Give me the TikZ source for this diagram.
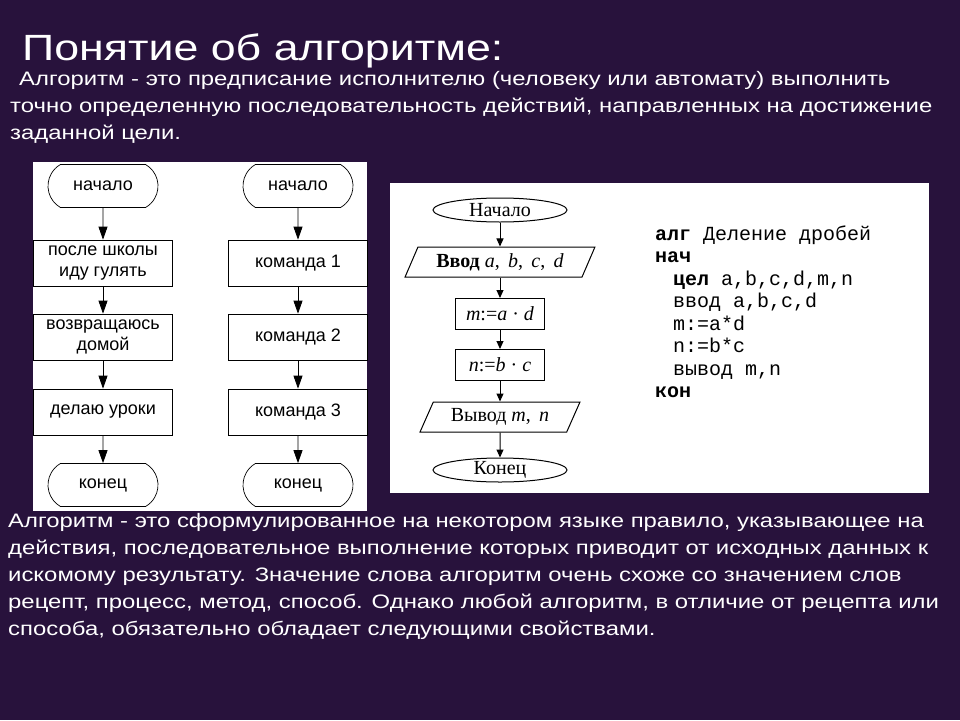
\documentclass[tikz,border=0pt]{standalone}
\usepackage{fontspec}
\setmainfont{Liberation Sans}
\newfontfamily\slidefont[FakeStretch=1.225]{Liberation Sans}
\newfontfamily\printfont{Liberation Serif}
\newfontfamily\progfont{Liberation Mono}
\usepackage{xcolor}
\usetikzlibrary{positioning, arrows.meta, shapes.geometric, shapes.misc}
\definecolor{slidebg}{RGB}{40,18,60}

\begin{document}
\begin{tikzpicture}[x=1pt, y=-1pt,
        slidetext/.style={text=white, anchor=base west, inner sep=0pt, align=left,
            font=\slidefont\fontsize{19.5}{27}\selectfont},
        term/.style={draw, shape=rounded rectangle, rounded rectangle arc length=120,
            minimum width=110pt, minimum height=43pt, inner sep=0pt, line width=0.7pt,
            font=\fontsize{18}{21}\selectfont},
        blk/.style={draw, rectangle, minimum width=139pt, minimum height=46pt,
            inner sep=0pt, align=center, line width=0.7pt, font=\fontsize{18}{21}\selectfont},
        oval/.style={draw, ellipse, minimum width=134pt, minimum height=24pt, inner sep=0pt,
            line width=1pt, font=\printfont\fontsize{20}{22}\selectfont},
        io/.style={draw, trapezium, trapezium left angle=60, trapezium right angle=120,
            trapezium stretches=true, minimum height=30pt, inner sep=0pt, line width=1pt,
            font=\printfont\fontsize{20}{22}\selectfont},
        op/.style={draw, rectangle, minimum width=89pt, minimum height=31pt, inner sep=0pt,
            line width=1pt, font=\printfont\fontsize{20}{22}\selectfont},
        arr/.style={-{Triangle[length=13pt,width=9pt]}, line width=0.8pt},
        parr/.style={-{Triangle[length=8pt,width=7pt]}, line width=1pt},
    ]
    \fill[slidebg] (0,0) rectangle (960,720);
    \useasboundingbox (0,0) rectangle (960,720);

    \node[text=white, anchor=base west, inner sep=0pt,
        font=\slidefont\fontsize{36.5}{40}\selectfont] (title) at (22,60) {Понятие об алгоритме:};
    \node[slidetext] (def1) at (10,139) {\hspace*{9pt}Алгоритм - это предписание исполнителю (человеку или автомату) выполнить\\
        точно определенную последовательность действий, направленных на достижение\\
        заданной цели.};

    \fill[white] (33,162) rectangle (367,511);
    \node[term] (s1) at (103,186) {начало};
    \node[blk] (a1) at (103,263) {после школы\\иду гулять};
    \node[blk] (a2) at (103,337) {возвращаюсь\\домой};
    \node[blk] (a3) at (103,412) {делаю уроки};
    \node[term] (e1) at (103,485) {конец};
    \draw[arr] (s1) -- (a1);
    \draw[arr] (a1) -- (a2);
    \draw[arr] (a2) -- (a3);
    \draw[arr] (a3) -- (e1);

    \node[term] (s2) at (298,186) {начало};
    \node[blk] (b1) at (298,263) {команда 1};
    \node[blk] (b2) at (298,337) {команда 2};
    \node[blk] (b3) at (298,412) {команда 3};
    \node[term] (e2) at (298,485) {конец};
    \draw[arr] (s2) -- (b1);
    \draw[arr] (b1) -- (b2);
    \draw[arr] (b2) -- (b3);
    \draw[arr] (b3) -- (e2);

    \fill[white] (390,183) rectangle (929,493);
    \node[oval] (r0) at (500,210) {Начало};
    \node[io, minimum width=190pt] (r1) at (500,262)
        {\textbf{Ввод} \textit{a},\, \textit{b},\, \textit{c},\, \textit{d}};
    \node[op] (r2) at (500,314) {\textit{m}:=\textit{a} · \textit{d}};
    \node[op] (r3) at (500,365) {\textit{n}:=\textit{b} · \textit{c}};
    \node[io, minimum width=160pt] (r4) at (500,417) {Вывод \textit{m},\, \textit{n}};
    \node[oval] (r5) at (500,470) {Конец};
    \draw[parr] (r0) -- (r1);
    \draw[parr] (r1) -- (r2);
    \draw[parr] (r2) -- (r3);
    \draw[parr] (r3) -- (r4);
    \draw[parr] (r4) -- (r5);

    \node[anchor=base west, inner sep=0pt, align=left,
        font=\progfont\fontsize{20}{22.5}\selectfont] (prog) at (655,397.5)
        {\textbf{алг} Деление дробей\\
        \textbf{нач}\\
        \hspace*{18pt}\textbf{цел} a,b,c,d,m,n\\
        \hspace*{18pt}ввод a,b,c,d\\
        \hspace*{18pt}m:=a*d\\
        \hspace*{18pt}n:=b*c\\
        \hspace*{18pt}вывод m,n\\
        \textbf{кон}};

    \node[slidetext] (def2) at (8,635) {Алгоритм - это сформулированное на некотором языке правило, указывающее на\\
        действия, последовательное выполнение которых приводит от исходных данных к\\
        искомому результату. Значение слова алгоритм очень схоже со значением слов\\
        рецепт, процесс, метод, способ. Однако любой алгоритм, в отличие от рецепта или\\
        способа, обязательно обладает следующими свойствами.};
\end{tikzpicture}
\end{document}
